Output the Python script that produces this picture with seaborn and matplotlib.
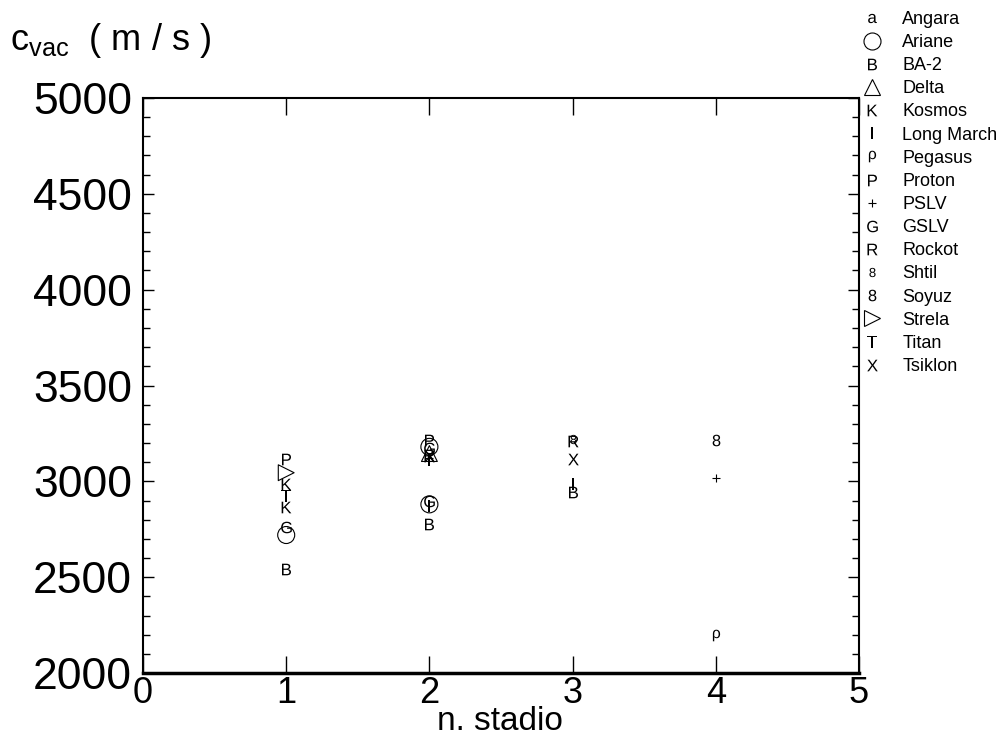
import numpy as np
import pandas as pd
import matplotlib
matplotlib.use("Agg")
import matplotlib.pyplot as plt
from matplotlib.lines import Line2D
from matplotlib.ticker import MultipleLocator
import seaborn as sns

sns.set_theme(style="white")
plt.rcParams['font.family'] = ['Liberation Sans', 'DejaVu Sans']
plt.rcParams['mathtext.fontset'] = 'custom'
plt.rcParams['mathtext.rm'] = 'Liberation Sans'
plt.rcParams['mathtext.it'] = 'Liberation Sans'
for k in ("text.color", "axes.labelcolor", "xtick.color", "ytick.color"):
    plt.rcParams[k] = "black"

# launchers shown in the legend, with their symbol
rockets = ["Angara", "Ariane", "BA-2", "Delta", "Kosmos", "Long March", "Pegasus",
           "Proton", "PSLV", "GSLV", "Rockot", "Shtil", "Soyuz", "Strela", "Titan", "Tsiklon"]
symbols = [r"$\mathrm{a}$", "o", r"$\mathrm{B}$", "^", r"$\mathrm{K}$", r"$\mathrm{I}$", r"$\rho$",
           r"$\mathrm{P}$", "+", r"$\mathrm{G}$", r"$\mathrm{R}$", r"$8$", r"$8$", ">", r"$\mathrm{T}$", r"$\mathrm{X}$"]
sizes = [45, 150, 70, 130, 70, 70, 70, 70, 40, 70, 70, 45, 70, 130, 70, 70]

# exhaust velocity in vacuum per stage
rocket_pts = ["Proton", "Strela", "Kosmos", "Titan", "Kosmos", "GSLV", "Ariane", "BA-2",
              "Proton", "Ariane", "GSLV", "Delta", "Rockot", "Tsiklon", "PSLV", "Long March",
              "GSLV", "Ariane", "Long March", "BA-2",
              "Rockot", "Shtil", "Tsiklon", "Long March", "BA-2",
              "Soyuz", "PSLV", "Pegasus"]
stadio = [1, 1, 1, 1, 1, 1, 1, 1,
          2, 2, 2, 2, 2, 2, 2, 2,
          2, 2, 2, 2,
          3, 3, 3, 3, 3,
          4, 4, 4]
cvac = [3115, 3045, 2985, 2925, 2865, 2760, 2720, 2545,
        3215, 3180, 3175, 3145, 3140, 3130, 3120, 3110,
        2895, 2880, 2870, 2775,
        3210, 3220, 3115, 2985, 2945,
        3215, 3015, 2200]

df = pd.DataFrame({"rocket": rocket_pts, "stadio": stadio, "cvac": cvac})
mk = dict(zip(rockets, symbols))
sz = dict(zip(rockets, sizes))

fig = plt.figure(figsize=(10.05, 7.4), dpi=100)
ax = fig.add_axes([0.1423, 0.0905, 0.7124, 0.7771])

for name, sub in df.groupby("rocket", sort=False):
    m = mk[name]
    if m in ("o", "^", ">"):
        sns.scatterplot(data=sub, x="stadio", y="cvac", marker=m, s=sz[name], ax=ax,
                        facecolors="none", edgecolor="black", linewidth=0.8, legend=False)
    elif m == "+":
        sns.scatterplot(data=sub, x="stadio", y="cvac", marker=m, s=sz[name], ax=ax,
                        color="black", linewidth=0.8, legend=False)
    else:
        sns.scatterplot(data=sub, x="stadio", y="cvac", marker=m, s=sz[name], ax=ax,
                        color="black", linewidth=0, legend=False)

ax.set_xlim(0, 5)
ax.set_ylim(2000, 5000)
ax.xaxis.set_major_locator(MultipleLocator(1))
ax.yaxis.set_major_locator(MultipleLocator(500))
ax.yaxis.set_minor_locator(MultipleLocator(100))
ax.tick_params(axis="x", which="major", direction="in", length=12, width=1,
               top=True, bottom=True, labelsize=26, pad=2)
ax.tick_params(axis="y", which="major", direction="in", length=8, width=1,
               left=True, right=True, labelsize=32, pad=8)
ax.tick_params(axis="y", which="minor", direction="in", length=5, width=1,
               left=True, right=True)
for sp in ax.spines.values():
    sp.set_color("black")
    sp.set_linewidth(1.5)
ax.spines["bottom"].set_linewidth(2.5)
ax.set_xlabel("")
ax.set_ylabel("")
fig.text(0.4975, 0.004, "n. stadio", fontsize=24, ha="center", va="bottom")
fig.text(0.01, 0.945, r"$\mathregular{c_{vac}}$  ( m / s )", fontsize=26, ha="left", va="center")

handles = []
for name, m in zip(rockets, symbols):
    ms = np.sqrt(sz[name])
    if m in ("o", "^", ">"):
        h = Line2D([], [], ls="none", marker=m, ms=ms, mfc="none", mec="black", mew=0.8)
    else:
        h = Line2D([], [], ls="none", marker=m, ms=ms, color="black", mew=0 if m != "+" else 0.8)
    handles.append(h)
fig.legend(handles, rockets, loc="upper left", bbox_to_anchor=(0.853, 0.995), frameon=False,
           fontsize=13, handlelength=0.8, handletextpad=1.3, labelspacing=0.34, borderaxespad=0)

fig.savefig("out.png", dpi=100)
